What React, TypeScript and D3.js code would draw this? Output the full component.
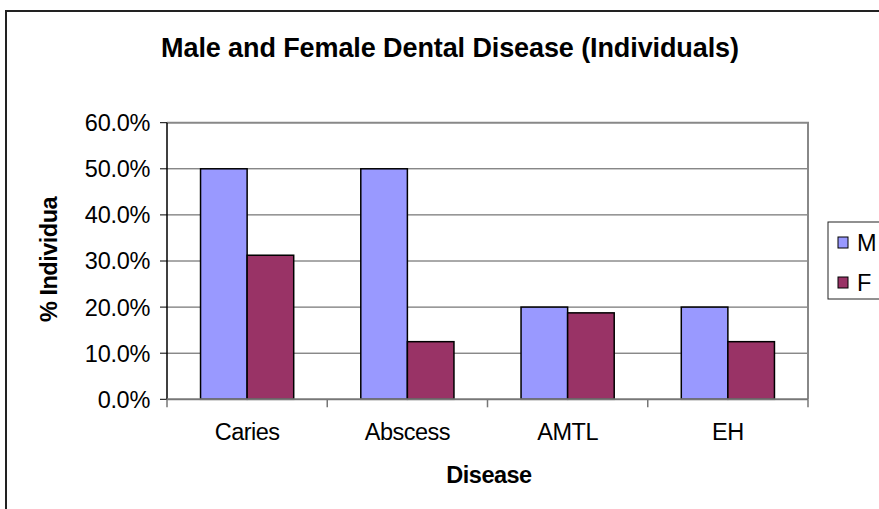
import React from "react";
import * as d3 from "d3";

const categories = ["Caries", "Abscess", "AMTL", "EH"];
const seriesNames = ["M", "F"];
const maleValues = [0.5, 0.5, 0.2, 0.2];
const femaleValues = [0.3125, 0.125, 0.1875, 0.125];
const yTicks = [0, 0.1, 0.2, 0.3, 0.4, 0.5, 0.6];
const seriesColors = ["#9999FF", "#993366"];

const W = 879;
const H = 509;
const plot = { left: 167, right: 808, top: 122.7, bottom: 399.3 };
const FONT = "'Liberation Sans', Arial, sans-serif";
const LABEL_SIZE = 23.5;

export default function App() {
  const x0 = d3.scaleBand<string>().domain(categories).range([plot.left, plot.right]).padding(0);
  const x1 = d3
    .scaleBand<string>()
    .domain(seriesNames)
    .range([0, x0.bandwidth()])
    .paddingInner(0)
    .paddingOuter(0.72);
  const y = d3.scaleLinear().domain([0, 0.6]).range([plot.bottom, plot.top]);
  const fmt = d3.format(".1%");
  const values = [maleValues, femaleValues];

  const boundaries = categories.map((c) => x0(c) as number).concat([plot.right]);

  return (
    <svg
      width={W}
      height={H}
      style={{ position: "fixed", left: 0, top: 0, background: "#fff" }}
      fontFamily={FONT}
    >
      <defs>
        <clipPath id="ylabel-clip">
          <rect x={20} y={196} width={50} height={150} />
        </clipPath>
      </defs>
      <rect x={0} y={0} width={W} height={H} fill="#fff" />
      {/* chart frame */}
      <rect x={6} y={11} width={W + 20} height={H + 20} fill="none" stroke="#222" strokeWidth={2} />

      <text x={450} y={57} textAnchor="middle" fontSize={27} fontWeight="bold" fill="#000" letterSpacing={-0.1}>
        Male and Female Dental Disease (Individuals)
      </text>

      {/* gridlines */}
      {yTicks.slice(1, -1).map((t) => (
        <line key={t} x1={plot.left} x2={plot.right} y1={y(t)} y2={y(t)} stroke="#555" strokeWidth={1} />
      ))}
      {/* plot area border (top/right) */}
      <path
        d={`M${plot.left},${plot.top}H${plot.right}V${plot.bottom}`}
        fill="none"
        stroke="#888"
        strokeWidth={2}
      />

      {/* bars */}
      {categories.map((c, i) => (
        <g key={c} transform={`translate(${x0(c)},0)`}>
          {seriesNames.map((s, j) => (
            <rect
              key={s}
              x={x1(s)}
              y={y(values[j][i])}
              width={x1.bandwidth()}
              height={plot.bottom - y(values[j][i])}
              fill={seriesColors[j]}
              stroke="#000"
              strokeWidth={1.5}
            />
          ))}
        </g>
      ))}

      {/* y axis */}
      <line x1={plot.left} x2={plot.left} y1={plot.top} y2={plot.bottom} stroke="#000" strokeWidth={1.5} />
      {yTicks.map((t) => (
        <g key={t}>
          <line x1={plot.left - 7} x2={plot.left} y1={y(t)} y2={y(t)} stroke="#000" strokeWidth={1} />
          <text x={150} y={y(t)} dy="0.36em" textAnchor="end" fontSize={LABEL_SIZE} fill="#000" letterSpacing={-0.3}>
            {fmt(t)}
          </text>
        </g>
      ))}

      {/* x axis */}
      <line x1={plot.left} x2={plot.right} y1={plot.bottom} y2={plot.bottom} stroke="#777" strokeWidth={2} />
      {boundaries.map((bx, i) => (
        <line key={i} x1={bx} x2={bx} y1={plot.bottom} y2={plot.bottom + 8} stroke="#777" strokeWidth={1.5} />
      ))}
      {categories.map((c) => (
        <text
          key={c}
          x={(x0(c) as number) + x0.bandwidth() / 2}
          y={440}
          textAnchor="middle"
          fontSize={LABEL_SIZE}
          fill="#000"
          letterSpacing={-0.5}
        >
          {c}
        </text>
      ))}

      <text x={489} y={483} textAnchor="middle" fontSize={LABEL_SIZE} fontWeight="bold" fill="#000" letterSpacing={-0.5}>
        Disease
      </text>

      <g clipPath="url(#ylabel-clip)">
        <text
          transform={`translate(57,${322}) rotate(-90)`}
          textAnchor="start"
          fontSize={LABEL_SIZE}
          fontWeight="bold"
          fill="#000"
          letterSpacing={-0.5}
        >
          % Individuals
        </text>
      </g>

      {/* legend */}
      <rect x={828} y={222} width={80} height={77} fill="#fff" stroke="#222" strokeWidth={1} />
      {seriesNames.map((s, j) => (
        <g key={s} transform={`translate(0,${j * 40})`}>
          <rect x={838} y={237} width={10} height={11} fill={seriesColors[j]} stroke="#000" strokeWidth={1} />
          <text x={857} y={251} fontSize={LABEL_SIZE} fill="#000">
            {s}
          </text>
        </g>
      ))}
    </svg>
  );
}
